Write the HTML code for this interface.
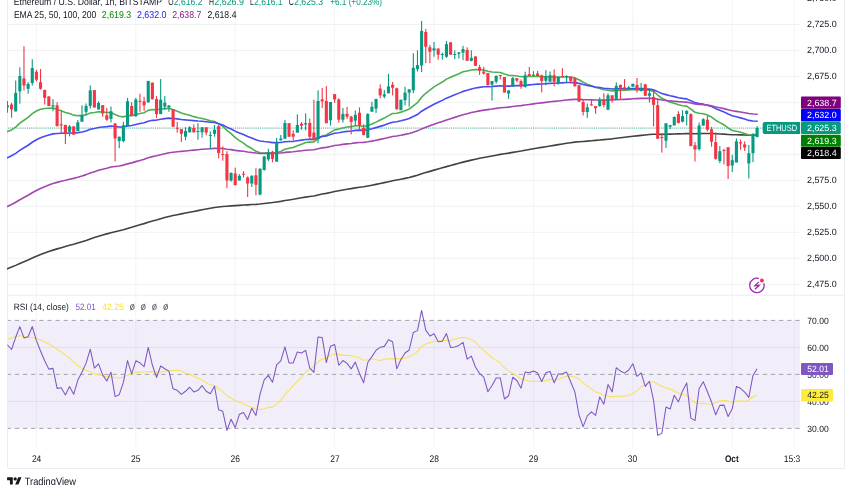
<!DOCTYPE html><html><head><meta charset="utf-8"><style>
html,body{margin:0;padding:0;background:#fff;width:852px;height:485px;overflow:hidden}
svg{position:absolute;left:0;top:0;display:block;will-change:transform}
text{font-family:"Liberation Sans",sans-serif;text-rendering:geometricPrecision}
</style></head><body>
<svg width="852" height="485" viewBox="0 0 852 485">
<rect x="0" y="0" width="852" height="485" fill="#fff"/>
<line x1="36.40" y1="0" x2="36.40" y2="295" stroke="#f3f4f5" stroke-width="1"/>
<line x1="36.40" y1="295.5" x2="36.40" y2="447" stroke="#f3f4f5" stroke-width="1"/>
<line x1="135.81" y1="0" x2="135.81" y2="295" stroke="#f3f4f5" stroke-width="1"/>
<line x1="135.81" y1="295.5" x2="135.81" y2="447" stroke="#f3f4f5" stroke-width="1"/>
<line x1="235.22" y1="0" x2="235.22" y2="295" stroke="#f3f4f5" stroke-width="1"/>
<line x1="235.22" y1="295.5" x2="235.22" y2="447" stroke="#f3f4f5" stroke-width="1"/>
<line x1="334.62" y1="0" x2="334.62" y2="295" stroke="#f3f4f5" stroke-width="1"/>
<line x1="334.62" y1="295.5" x2="334.62" y2="447" stroke="#f3f4f5" stroke-width="1"/>
<line x1="434.03" y1="0" x2="434.03" y2="295" stroke="#f3f4f5" stroke-width="1"/>
<line x1="434.03" y1="295.5" x2="434.03" y2="447" stroke="#f3f4f5" stroke-width="1"/>
<line x1="533.44" y1="0" x2="533.44" y2="295" stroke="#f3f4f5" stroke-width="1"/>
<line x1="533.44" y1="295.5" x2="533.44" y2="447" stroke="#f3f4f5" stroke-width="1"/>
<line x1="632.85" y1="0" x2="632.85" y2="295" stroke="#f3f4f5" stroke-width="1"/>
<line x1="632.85" y1="295.5" x2="632.85" y2="447" stroke="#f3f4f5" stroke-width="1"/>
<line x1="732.26" y1="0" x2="732.26" y2="295" stroke="#f3f4f5" stroke-width="1"/>
<line x1="732.26" y1="295.5" x2="732.26" y2="447" stroke="#f3f4f5" stroke-width="1"/>
<line x1="794.30" y1="0" x2="794.30" y2="295" stroke="#f3f4f5" stroke-width="1"/>
<line x1="794.30" y1="295.5" x2="794.30" y2="447" stroke="#f3f4f5" stroke-width="1"/>
<line x1="8" y1="24.40" x2="800" y2="24.40" stroke="#f0f2f2" stroke-width="1"/>
<line x1="8" y1="50.39" x2="800" y2="50.39" stroke="#f0f2f2" stroke-width="1"/>
<line x1="8" y1="76.38" x2="800" y2="76.38" stroke="#f0f2f2" stroke-width="1"/>
<line x1="8" y1="102.36" x2="800" y2="102.36" stroke="#f0f2f2" stroke-width="1"/>
<line x1="8" y1="128.35" x2="800" y2="128.35" stroke="#f0f2f2" stroke-width="1"/>
<line x1="8" y1="154.34" x2="800" y2="154.34" stroke="#f0f2f2" stroke-width="1"/>
<line x1="8" y1="180.33" x2="800" y2="180.33" stroke="#f0f2f2" stroke-width="1"/>
<line x1="8" y1="206.31" x2="800" y2="206.31" stroke="#f0f2f2" stroke-width="1"/>
<line x1="8" y1="232.30" x2="800" y2="232.30" stroke="#f0f2f2" stroke-width="1"/>
<line x1="8" y1="258.29" x2="800" y2="258.29" stroke="#f0f2f2" stroke-width="1"/>
<line x1="8" y1="284.27" x2="800" y2="284.27" stroke="#f0f2f2" stroke-width="1"/>
<line x1="8" y1="347.40" x2="800" y2="347.40" stroke="#eceef4" stroke-width="1"/>
<line x1="8" y1="401.40" x2="800" y2="401.40" stroke="#eceef4" stroke-width="1"/>
<rect x="8" y="320.4" width="792" height="108" fill="#7e57c2" fill-opacity="0.1"/>
<line x1="0" y1="320.40" x2="800" y2="320.40" clip-path="url(#rp2)" stroke="#a0a3ab" stroke-width="1" stroke-dasharray="4.2,3.93" stroke-dashoffset="-6.77"/>
<line x1="0" y1="374.40" x2="800" y2="374.40" clip-path="url(#rp2)" stroke="#a0a3ab" stroke-width="1" stroke-dasharray="4.2,3.93" stroke-dashoffset="-6.77"/>
<line x1="0" y1="428.40" x2="800" y2="428.40" clip-path="url(#rp2)" stroke="#a0a3ab" stroke-width="1" stroke-dasharray="4.2,3.93" stroke-dashoffset="-6.77"/>
<line x1="7.5" y1="0" x2="7.5" y2="468.5" stroke="#eaecf1" stroke-width="1"/>
<line x1="844.5" y1="0" x2="844.5" y2="468.5" stroke="#eaecf1" stroke-width="1"/>
<line x1="7.5" y1="468.5" x2="844.5" y2="468.5" stroke="#eaecf1" stroke-width="1"/>
<line x1="8" y1="295.2" x2="844" y2="295.2" stroke="#eaecf1" stroke-width="1"/>
<line x1="8" y1="128.04" x2="800" y2="128.04" stroke="#089981" stroke-width="1" stroke-dasharray="1,1.1" opacity="0.75"/>
<defs><clipPath id="mp"><rect x="7" y="0" width="793" height="295"/></clipPath><clipPath id="rp2"><rect x="7.5" y="296" width="792.5" height="151"/></clipPath><clipPath id="rp"><rect x="7" y="296" width="793" height="151"/></clipPath></defs>
<polyline clip-path="url(#mp)" points="7.41,268.70 11.55,267.11 15.69,265.38 19.83,263.50 23.97,261.73 28.12,259.96 32.26,258.05 36.40,256.27 40.54,254.61 44.68,253.05 48.83,251.58 52.97,250.13 57.11,248.89 61.25,247.67 65.39,246.53 69.54,245.34 73.68,244.23 77.82,243.02 81.96,241.75 86.10,240.40 90.25,238.90 94.39,237.60 98.53,236.26 102.67,235.03 106.81,233.89 110.96,232.67 115.10,231.73 119.24,230.79 123.38,229.74 127.52,228.46 131.67,227.33 135.81,226.06 139.95,224.82 144.09,223.63 148.23,222.21 152.38,220.99 156.52,219.93 160.66,218.73 164.80,217.58 168.94,216.46 173.09,215.57 177.23,214.70 181.37,213.90 185.51,213.07 189.65,212.22 193.80,211.42 197.94,210.62 202.08,209.79 206.22,209.03 210.36,208.29 214.51,207.51 218.65,206.96 222.79,206.45 226.93,206.19 231.07,205.86 235.22,205.65 239.36,205.35 243.50,205.05 247.64,204.83 251.78,204.54 255.93,204.35 260.07,203.99 264.21,203.52 268.35,203.01 272.49,202.57 276.64,201.97 280.78,201.34 284.92,200.56 289.06,199.93 293.20,199.30 297.35,198.56 301.49,197.83 305.63,197.09 309.77,196.49 313.91,195.93 318.06,194.99 322.20,194.05 326.34,193.35 330.48,192.44 334.62,191.52 338.77,190.80 342.91,190.04 347.05,189.31 351.19,188.64 355.33,187.90 359.48,187.28 363.62,186.76 367.76,186.04 371.90,185.25 376.04,184.39 380.19,183.50 384.33,182.62 388.47,181.66 392.61,180.73 396.75,180.01 400.90,179.21 405.04,178.35 409.18,177.47 413.32,176.38 417.46,175.27 421.61,173.83 425.75,172.57 429.89,171.36 434.03,170.14 438.17,168.99 442.32,167.85 446.46,166.62 450.60,165.50 454.74,164.39 458.88,163.28 463.03,162.14 467.17,161.13 471.31,160.11 475.45,159.17 479.59,158.29 483.74,157.44 487.88,156.73 492.02,155.97 496.16,155.18 500.30,154.39 504.45,153.77 508.59,153.14 512.73,152.40 516.87,151.68 521.01,151.03 525.16,150.28 529.30,149.54 533.44,148.79 537.58,148.07 541.72,147.40 545.87,146.69 550.01,145.98 554.15,145.34 558.29,144.66 562.43,143.99 566.58,143.31 570.72,142.69 574.86,142.13 579.00,141.73 583.14,141.43 587.29,141.09 591.43,140.74 595.57,140.41 599.71,140.01 603.85,139.66 608.00,139.22 612.14,138.83 616.28,138.30 620.42,137.80 624.56,137.32 628.71,136.82 632.85,136.29 636.99,135.83 641.13,135.36 645.27,134.97 649.42,134.56 653.56,134.26 657.70,134.30 661.84,134.34 665.98,134.23 670.13,134.14 674.27,133.97 678.41,133.86 682.55,133.68 686.69,133.46 690.84,133.58 694.98,133.74 699.12,133.66 703.26,133.51 707.40,133.48 711.55,133.56 715.69,133.81 719.83,133.98 723.97,134.15 728.11,134.47 732.26,134.72 736.40,134.79 740.54,134.88 744.68,135.00 748.82,135.19 752.97,135.18 757.11,135.11" fill="none" stroke="#424242" stroke-width="1.6" stroke-linejoin="round" stroke-linecap="round"/>
<polyline clip-path="url(#mp)" points="7.41,131.60 11.55,129.89 15.69,127.05 19.83,123.12 23.97,120.23 28.12,117.42 32.26,113.63 36.40,111.02 40.54,109.31 44.68,108.43 48.83,108.25 52.97,108.03 57.11,109.42 61.25,110.65 65.39,112.41 69.54,113.49 73.68,115.12 77.82,115.67 81.96,115.62 86.10,114.87 90.25,112.99 94.39,112.57 98.53,111.83 102.67,111.96 106.81,112.56 110.96,112.47 115.10,114.47 119.24,116.18 123.38,116.88 127.52,115.67 131.67,115.66 135.81,114.42 139.95,113.42 144.09,112.81 148.23,110.35 152.38,109.50 156.52,109.86 160.66,109.07 164.80,108.59 168.94,108.35 173.09,109.77 177.23,111.21 181.37,112.95 185.51,114.33 189.65,115.33 193.80,116.64 197.94,117.74 202.08,118.48 206.22,119.56 210.36,120.74 214.51,121.43 218.65,123.86 222.79,126.24 226.93,130.41 231.07,133.68 235.22,137.64 239.36,140.58 243.50,143.19 247.64,146.29 251.78,148.56 255.93,151.34 260.07,152.68 264.21,152.98 268.35,152.92 272.49,153.38 276.64,152.54 280.78,151.46 284.92,149.27 289.06,148.30 293.20,147.41 297.35,145.69 301.49,144.16 305.63,142.55 309.77,142.10 313.91,141.95 318.06,138.80 322.20,135.92 326.34,134.94 330.48,132.41 334.62,129.88 338.77,129.10 342.91,127.93 347.05,127.06 351.19,126.67 355.33,125.76 359.48,125.75 363.62,126.46 367.76,125.49 371.90,124.06 376.04,122.13 380.19,120.07 384.33,118.09 388.47,115.65 392.61,113.51 396.75,113.18 400.90,112.14 405.04,110.64 409.18,109.00 413.32,105.83 417.46,102.69 421.61,97.17 425.75,93.29 429.89,90.09 434.03,86.88 438.17,84.40 442.32,82.06 446.46,79.14 450.60,77.26 454.74,75.47 458.88,73.70 463.03,71.81 467.17,70.96 471.31,69.95 475.45,69.63 479.59,69.72 483.74,70.01 487.88,71.18 492.02,71.95 496.16,72.25 500.30,72.52 504.45,74.06 508.59,75.33 512.73,75.55 516.87,75.94 521.01,76.74 525.16,76.63 529.30,76.57 533.44,76.43 537.58,76.39 541.72,76.75 545.87,76.70 550.01,76.59 554.15,76.99 558.29,76.99 562.43,76.97 566.58,76.90 570.72,77.21 574.86,77.90 579.00,79.73 583.14,82.21 587.29,84.14 591.43,85.78 595.57,87.51 599.71,88.47 603.85,89.74 608.00,90.17 612.14,90.92 616.28,90.54 620.42,90.34 624.56,90.24 628.71,90.01 632.85,89.54 636.99,89.59 641.13,89.51 645.27,89.99 649.42,90.25 653.56,91.37 657.70,95.02 661.84,98.31 665.98,100.23 670.13,102.16 674.27,103.30 678.41,104.81 682.55,105.68 686.69,106.08 690.84,109.16 694.98,112.26 699.12,113.28 703.26,113.73 707.40,114.96 711.55,117.02 715.69,120.23 719.83,122.62 723.97,124.80 728.11,127.97 732.26,130.45 736.40,131.29 740.54,132.23 744.68,133.41 748.82,134.93 752.97,134.89 757.11,134.36" fill="none" stroke="#4caf50" stroke-width="1.6" stroke-linejoin="round" stroke-linecap="round"/>
<polyline clip-path="url(#mp)" points="7.41,157.70 11.55,155.81 15.69,153.34 19.83,150.31 23.97,147.76 28.12,145.26 32.26,142.23 36.40,139.78 40.54,137.78 44.68,136.22 48.83,135.03 52.97,133.87 57.11,133.56 61.25,133.25 65.39,133.26 69.54,132.99 73.68,133.06 77.82,132.63 81.96,131.94 86.10,130.92 90.25,129.33 94.39,128.48 98.53,127.48 102.67,126.93 106.81,126.65 110.96,126.05 115.10,126.54 119.24,126.93 123.38,126.87 127.52,125.86 131.67,125.46 135.81,124.44 139.95,123.54 144.09,122.83 148.23,121.18 152.38,120.33 156.52,120.08 160.66,119.28 164.80,118.64 168.94,118.12 173.09,118.46 177.23,118.85 181.37,119.44 185.51,119.89 189.65,120.18 193.80,120.66 197.94,121.06 202.08,121.31 206.22,121.75 210.36,122.27 214.51,122.56 218.65,123.75 222.79,124.97 226.93,127.15 231.07,128.94 235.22,131.15 239.36,132.90 243.50,134.53 247.64,136.45 251.78,137.99 255.93,139.82 260.07,140.96 264.21,141.57 268.35,141.99 272.49,142.65 276.64,142.64 280.78,142.48 284.92,141.72 289.06,141.52 293.20,141.33 297.35,140.69 301.49,140.11 305.63,139.44 309.77,139.34 313.91,139.37 318.06,137.87 322.20,136.44 326.34,135.92 330.48,134.59 334.62,133.21 338.77,132.68 342.91,131.94 347.05,131.35 351.19,130.98 355.33,130.35 359.48,130.16 363.62,130.35 367.76,129.70 371.90,128.81 376.04,127.64 380.19,126.37 384.33,125.12 388.47,123.60 392.61,122.19 396.75,121.68 400.90,120.82 405.04,119.71 409.18,118.52 413.32,116.53 417.46,114.52 421.61,111.24 425.75,108.71 429.89,106.47 434.03,104.19 438.17,102.25 442.32,100.36 446.46,98.15 450.60,96.45 454.74,94.78 458.88,93.12 463.03,91.39 467.17,90.19 471.31,88.93 475.45,88.02 479.59,87.34 483.74,86.80 487.88,86.74 492.02,86.52 496.16,86.10 500.30,85.70 504.45,85.96 508.59,86.14 512.73,85.83 516.87,85.63 521.01,85.66 525.16,85.25 529.30,84.88 533.44,84.48 537.58,84.15 541.72,84.03 545.87,83.72 550.01,83.39 554.15,83.32 558.29,83.07 562.43,82.83 566.58,82.56 570.72,82.49 574.86,82.64 579.00,83.39 583.14,84.51 587.29,85.40 591.43,86.19 595.57,87.05 599.71,87.56 603.85,88.25 608.00,88.52 612.14,88.97 616.28,88.85 620.42,88.81 624.56,88.83 628.71,88.77 632.85,88.57 636.99,88.64 641.13,88.63 645.27,88.91 649.42,89.09 653.56,89.70 657.70,91.63 661.84,93.44 665.98,94.61 670.13,95.81 674.27,96.64 678.41,97.67 682.55,98.40 686.69,98.89 690.84,100.74 694.98,102.65 699.12,103.55 703.26,104.16 707.40,105.16 711.55,106.59 715.69,108.64 719.83,110.31 723.97,111.91 728.11,114.03 732.26,115.84 736.40,116.84 740.54,117.89 744.68,119.05 748.82,120.39 752.97,120.94 757.11,121.22" fill="none" stroke="#4a4af5" stroke-width="1.6" stroke-linejoin="round" stroke-linecap="round"/>
<polyline clip-path="url(#mp)" points="7.41,206.40 11.55,204.48 15.69,202.27 19.83,199.77 23.97,197.51 28.12,195.25 32.26,192.74 36.40,190.50 40.54,188.48 44.68,186.69 48.83,185.10 52.97,183.52 57.11,182.38 61.25,181.25 65.39,180.31 69.54,179.24 73.68,178.36 77.82,177.25 81.96,176.01 86.10,174.63 90.25,172.96 94.39,171.66 98.53,170.30 102.67,169.18 106.81,168.20 110.96,167.07 115.10,166.51 119.24,165.92 123.38,165.11 127.52,163.85 131.67,162.89 135.81,161.63 139.95,160.44 144.09,159.35 148.23,157.80 152.38,156.64 156.52,155.80 160.66,154.69 164.80,153.66 168.94,152.71 173.09,152.19 177.23,151.73 181.37,151.37 185.51,150.96 189.65,150.50 193.80,150.14 197.94,149.76 202.08,149.31 206.22,148.98 210.36,148.70 214.51,148.33 218.65,148.42 222.79,148.55 226.93,149.18 231.07,149.65 235.22,150.35 239.36,150.86 243.50,151.32 247.64,151.96 251.78,152.43 255.93,153.07 260.07,153.38 264.21,153.45 268.35,153.42 272.49,153.53 276.64,153.31 280.78,153.02 284.92,152.42 289.06,152.11 293.20,151.81 297.35,151.28 301.49,150.77 305.63,150.23 309.77,149.96 313.91,149.76 318.06,148.80 322.20,147.86 326.34,147.37 330.48,146.47 334.62,145.54 338.77,145.03 342.91,144.41 347.05,143.87 351.19,143.43 355.33,142.87 359.48,142.52 363.62,142.37 367.76,141.81 371.90,141.12 376.04,140.28 380.19,139.40 384.33,138.50 388.47,137.47 392.61,136.49 396.75,135.95 400.90,135.23 405.04,134.38 409.18,133.49 413.32,132.19 417.46,130.86 421.61,128.88 425.75,127.26 429.89,125.76 434.03,124.23 438.17,122.85 442.32,121.49 446.46,119.95 450.60,118.66 454.74,117.38 458.88,116.09 463.03,114.77 467.17,113.70 471.31,112.59 475.45,111.67 479.59,110.86 483.74,110.12 487.88,109.62 492.02,109.06 496.16,108.40 500.30,107.76 504.45,107.46 508.59,107.12 512.73,106.55 516.87,106.03 521.01,105.64 525.16,105.04 529.30,104.47 533.44,103.88 537.58,103.32 541.72,102.88 545.87,102.35 550.01,101.82 554.15,101.42 558.29,100.94 562.43,100.46 566.58,99.97 570.72,99.60 574.86,99.33 579.00,99.38 583.14,99.63 587.29,99.78 591.43,99.89 595.57,100.06 599.71,100.06 603.85,100.15 608.00,100.06 612.14,100.06 616.28,99.78 620.42,99.54 624.56,99.33 628.71,99.10 632.85,98.79 636.99,98.62 641.13,98.42 645.27,98.37 649.42,98.27 653.56,98.40 657.70,99.20 661.84,99.97 665.98,100.43 670.13,100.92 674.27,101.24 678.41,101.67 682.55,101.95 686.69,102.13 690.84,103.00 694.98,103.92 699.12,104.35 703.26,104.64 707.40,105.14 711.55,105.86 715.69,106.91 719.83,107.79 723.97,108.64 728.11,109.78 732.26,110.78 736.40,111.38 740.54,112.02 744.68,112.73 748.82,113.53 752.97,113.94 757.11,114.22" fill="none" stroke="#a445b2" stroke-width="1.6" stroke-linejoin="round" stroke-linecap="round"/>
<g clip-path="url(#mp)">
<rect x="6.86" y="101.00" width="1.1" height="11.70" fill="#089981"/>
<rect x="5.86" y="105.30" width="3.1" height="2.10" fill="#089981"/>
<rect x="11.00" y="102.80" width="1.1" height="14.90" fill="#F23645"/>
<rect x="10.00" y="104.50" width="3.1" height="4.90" fill="#F23645"/>
<rect x="15.14" y="80.50" width="1.1" height="30.90" fill="#089981"/>
<rect x="14.14" y="92.90" width="3.1" height="18.50" fill="#089981"/>
<rect x="19.28" y="67.30" width="1.1" height="36.30" fill="#089981"/>
<rect x="18.28" y="76.00" width="3.1" height="15.30" fill="#089981"/>
<rect x="23.42" y="46.20" width="1.1" height="44.20" fill="#F23645"/>
<rect x="22.42" y="78.40" width="3.1" height="7.10" fill="#F23645"/>
<rect x="27.57" y="82.20" width="1.1" height="11.50" fill="#089981"/>
<rect x="26.57" y="83.80" width="3.1" height="5.00" fill="#089981"/>
<rect x="31.71" y="59.30" width="1.1" height="26.20" fill="#089981"/>
<rect x="30.71" y="68.10" width="3.1" height="14.90" fill="#089981"/>
<rect x="35.85" y="69.80" width="1.1" height="11.60" fill="#F23645"/>
<rect x="34.85" y="71.80" width="3.1" height="7.90" fill="#F23645"/>
<rect x="39.99" y="69.00" width="1.1" height="20.60" fill="#F23645"/>
<rect x="38.99" y="82.20" width="3.1" height="6.60" fill="#F23645"/>
<rect x="44.13" y="89.60" width="1.1" height="14.90" fill="#F23645"/>
<rect x="43.13" y="90.00" width="3.1" height="7.90" fill="#F23645"/>
<rect x="48.28" y="96.20" width="1.1" height="9.90" fill="#F23645"/>
<rect x="47.28" y="96.50" width="3.1" height="9.60" fill="#F23645"/>
<rect x="52.42" y="99.20" width="1.1" height="12.00" fill="#089981"/>
<rect x="51.42" y="105.30" width="3.1" height="1.20" fill="#089981"/>
<rect x="56.56" y="102.10" width="1.1" height="24.30" fill="#F23645"/>
<rect x="55.56" y="105.30" width="3.1" height="20.80" fill="#F23645"/>
<rect x="60.70" y="110.60" width="1.1" height="23.50" fill="#F23645"/>
<rect x="59.70" y="124.30" width="3.1" height="1.20" fill="#F23645"/>
<rect x="64.84" y="124.90" width="1.1" height="19.20" fill="#F23645"/>
<rect x="63.84" y="124.90" width="3.1" height="8.60" fill="#F23645"/>
<rect x="68.99" y="124.90" width="1.1" height="11.50" fill="#089981"/>
<rect x="67.99" y="126.40" width="3.1" height="5.30" fill="#089981"/>
<rect x="73.13" y="126.40" width="1.1" height="8.30" fill="#F23645"/>
<rect x="72.13" y="126.40" width="3.1" height="8.30" fill="#F23645"/>
<rect x="77.27" y="120.00" width="1.1" height="11.10" fill="#089981"/>
<rect x="76.27" y="122.30" width="3.1" height="8.80" fill="#089981"/>
<rect x="81.41" y="105.30" width="1.1" height="16.40" fill="#089981"/>
<rect x="80.41" y="115.00" width="3.1" height="6.70" fill="#089981"/>
<rect x="85.55" y="103.50" width="1.1" height="11.20" fill="#089981"/>
<rect x="84.55" y="105.90" width="3.1" height="5.90" fill="#089981"/>
<rect x="89.70" y="85.50" width="1.1" height="23.10" fill="#089981"/>
<rect x="88.70" y="90.40" width="3.1" height="15.50" fill="#089981"/>
<rect x="93.84" y="90.10" width="1.1" height="17.40" fill="#F23645"/>
<rect x="92.84" y="90.10" width="3.1" height="17.40" fill="#F23645"/>
<rect x="97.98" y="101.20" width="1.1" height="8.50" fill="#089981"/>
<rect x="96.98" y="103.00" width="3.1" height="6.40" fill="#089981"/>
<rect x="102.12" y="105.00" width="1.1" height="11.70" fill="#F23645"/>
<rect x="101.12" y="105.20" width="3.1" height="8.30" fill="#F23645"/>
<rect x="106.26" y="108.00" width="1.1" height="12.80" fill="#F23645"/>
<rect x="105.26" y="115.30" width="3.1" height="4.50" fill="#F23645"/>
<rect x="110.41" y="106.50" width="1.1" height="15.90" fill="#089981"/>
<rect x="109.41" y="111.30" width="3.1" height="7.60" fill="#089981"/>
<rect x="114.55" y="122.90" width="1.1" height="38.60" fill="#F23645"/>
<rect x="113.55" y="123.50" width="3.1" height="15.00" fill="#F23645"/>
<rect x="118.69" y="136.70" width="1.1" height="11.50" fill="#089981"/>
<rect x="117.69" y="136.70" width="3.1" height="4.40" fill="#089981"/>
<rect x="122.83" y="121.70" width="1.1" height="20.60" fill="#089981"/>
<rect x="121.83" y="125.30" width="3.1" height="15.80" fill="#089981"/>
<rect x="126.97" y="97.90" width="1.1" height="28.80" fill="#089981"/>
<rect x="125.97" y="101.20" width="3.1" height="24.70" fill="#089981"/>
<rect x="131.12" y="102.20" width="1.1" height="14.10" fill="#F23645"/>
<rect x="130.12" y="106.00" width="3.1" height="9.50" fill="#F23645"/>
<rect x="135.26" y="97.90" width="1.1" height="18.50" fill="#089981"/>
<rect x="134.26" y="99.50" width="3.1" height="16.90" fill="#089981"/>
<rect x="139.40" y="93.80" width="1.1" height="18.00" fill="#F23645"/>
<rect x="138.40" y="100.80" width="3.1" height="1.00" fill="#F23645"/>
<rect x="143.54" y="96.70" width="1.1" height="14.10" fill="#F23645"/>
<rect x="142.54" y="101.30" width="3.1" height="4.10" fill="#F23645"/>
<rect x="147.68" y="80.90" width="1.1" height="21.50" fill="#089981"/>
<rect x="146.68" y="80.90" width="3.1" height="21.50" fill="#089981"/>
<rect x="151.83" y="82.60" width="1.1" height="16.70" fill="#F23645"/>
<rect x="150.83" y="82.60" width="3.1" height="16.70" fill="#F23645"/>
<rect x="155.97" y="96.10" width="1.1" height="21.80" fill="#F23645"/>
<rect x="154.97" y="99.10" width="3.1" height="15.00" fill="#F23645"/>
<rect x="160.11" y="79.10" width="1.1" height="35.00" fill="#089981"/>
<rect x="159.11" y="99.70" width="3.1" height="14.40" fill="#089981"/>
<rect x="164.25" y="96.10" width="1.1" height="13.60" fill="#089981"/>
<rect x="163.25" y="102.80" width="3.1" height="3.90" fill="#089981"/>
<rect x="168.39" y="105.20" width="1.1" height="6.60" fill="#089981"/>
<rect x="167.39" y="105.50" width="3.1" height="2.00" fill="#089981"/>
<rect x="172.54" y="109.10" width="1.1" height="17.60" fill="#F23645"/>
<rect x="171.54" y="109.10" width="3.1" height="17.60" fill="#F23645"/>
<rect x="176.68" y="122.00" width="1.1" height="10.60" fill="#F23645"/>
<rect x="175.68" y="127.80" width="3.1" height="1.00" fill="#F23645"/>
<rect x="180.82" y="129.10" width="1.1" height="12.90" fill="#F23645"/>
<rect x="179.82" y="129.10" width="3.1" height="4.70" fill="#F23645"/>
<rect x="184.96" y="127.30" width="1.1" height="13.00" fill="#089981"/>
<rect x="183.96" y="130.90" width="3.1" height="5.80" fill="#089981"/>
<rect x="189.10" y="126.20" width="1.1" height="6.40" fill="#089981"/>
<rect x="188.10" y="127.30" width="3.1" height="5.00" fill="#089981"/>
<rect x="193.25" y="124.40" width="1.1" height="8.20" fill="#F23645"/>
<rect x="192.25" y="127.90" width="3.1" height="4.40" fill="#F23645"/>
<rect x="197.39" y="123.20" width="1.1" height="16.50" fill="#089981"/>
<rect x="196.39" y="131.00" width="3.1" height="1.00" fill="#089981"/>
<rect x="201.53" y="127.30" width="1.1" height="10.40" fill="#089981"/>
<rect x="200.53" y="127.30" width="3.1" height="5.00" fill="#089981"/>
<rect x="205.67" y="127.30" width="1.1" height="8.00" fill="#F23645"/>
<rect x="204.67" y="127.30" width="3.1" height="5.30" fill="#F23645"/>
<rect x="209.81" y="131.40" width="1.1" height="17.60" fill="#089981"/>
<rect x="208.81" y="134.90" width="3.1" height="1.00" fill="#089981"/>
<rect x="213.96" y="125.00" width="1.1" height="11.70" fill="#089981"/>
<rect x="212.96" y="129.70" width="3.1" height="4.10" fill="#089981"/>
<rect x="218.10" y="125.00" width="1.1" height="33.30" fill="#F23645"/>
<rect x="217.10" y="126.20" width="3.1" height="26.80" fill="#F23645"/>
<rect x="222.24" y="146.30" width="1.1" height="14.40" fill="#F23645"/>
<rect x="221.24" y="154.00" width="3.1" height="1.00" fill="#F23645"/>
<rect x="226.38" y="151.20" width="1.1" height="37.00" fill="#F23645"/>
<rect x="225.38" y="154.10" width="3.1" height="26.40" fill="#F23645"/>
<rect x="230.52" y="172.30" width="1.1" height="9.40" fill="#089981"/>
<rect x="229.52" y="172.90" width="3.1" height="7.60" fill="#089981"/>
<rect x="234.67" y="167.60" width="1.1" height="17.60" fill="#F23645"/>
<rect x="233.67" y="173.50" width="3.1" height="11.70" fill="#F23645"/>
<rect x="238.81" y="174.10" width="1.1" height="6.40" fill="#089981"/>
<rect x="237.81" y="175.80" width="3.1" height="4.70" fill="#089981"/>
<rect x="242.95" y="171.10" width="1.1" height="6.50" fill="#F23645"/>
<rect x="241.95" y="173.70" width="3.1" height="1.00" fill="#F23645"/>
<rect x="247.09" y="176.40" width="1.1" height="20.60" fill="#F23645"/>
<rect x="246.09" y="177.40" width="3.1" height="6.10" fill="#F23645"/>
<rect x="251.23" y="175.30" width="1.1" height="11.70" fill="#089981"/>
<rect x="250.23" y="175.80" width="3.1" height="7.70" fill="#089981"/>
<rect x="255.38" y="168.20" width="1.1" height="27.00" fill="#F23645"/>
<rect x="254.38" y="175.30" width="3.1" height="9.40" fill="#F23645"/>
<rect x="259.52" y="168.20" width="1.1" height="27.00" fill="#089981"/>
<rect x="258.52" y="168.80" width="3.1" height="25.80" fill="#089981"/>
<rect x="263.66" y="155.90" width="1.1" height="14.70" fill="#089981"/>
<rect x="262.66" y="156.50" width="3.1" height="13.50" fill="#089981"/>
<rect x="267.80" y="148.80" width="1.1" height="12.40" fill="#089981"/>
<rect x="266.80" y="152.30" width="3.1" height="7.10" fill="#089981"/>
<rect x="271.94" y="150.80" width="1.1" height="11.50" fill="#F23645"/>
<rect x="270.94" y="151.80" width="3.1" height="7.00" fill="#F23645"/>
<rect x="276.09" y="137.90" width="1.1" height="23.80" fill="#089981"/>
<rect x="275.09" y="142.50" width="3.1" height="19.20" fill="#089981"/>
<rect x="280.23" y="135.00" width="1.1" height="5.80" fill="#089981"/>
<rect x="279.23" y="138.50" width="3.1" height="1.70" fill="#089981"/>
<rect x="284.37" y="119.90" width="1.1" height="18.80" fill="#089981"/>
<rect x="283.37" y="123.00" width="3.1" height="15.70" fill="#089981"/>
<rect x="288.51" y="123.20" width="1.1" height="13.50" fill="#F23645"/>
<rect x="287.51" y="123.20" width="3.1" height="13.50" fill="#F23645"/>
<rect x="292.65" y="130.30" width="1.1" height="9.90" fill="#F23645"/>
<rect x="291.65" y="133.80" width="3.1" height="2.90" fill="#F23645"/>
<rect x="296.80" y="114.40" width="1.1" height="18.20" fill="#089981"/>
<rect x="295.80" y="125.00" width="3.1" height="7.60" fill="#089981"/>
<rect x="300.94" y="122.00" width="1.1" height="7.70" fill="#F23645"/>
<rect x="299.94" y="123.80" width="3.1" height="2.00" fill="#F23645"/>
<rect x="305.08" y="113.30" width="1.1" height="17.00" fill="#089981"/>
<rect x="304.08" y="123.20" width="3.1" height="1.40" fill="#089981"/>
<rect x="309.22" y="118.50" width="1.1" height="21.20" fill="#F23645"/>
<rect x="308.22" y="123.00" width="3.1" height="13.70" fill="#F23645"/>
<rect x="313.36" y="99.80" width="1.1" height="40.40" fill="#F23645"/>
<rect x="312.36" y="132.60" width="3.1" height="7.60" fill="#F23645"/>
<rect x="317.51" y="90.30" width="1.1" height="52.90" fill="#089981"/>
<rect x="316.51" y="101.00" width="3.1" height="38.10" fill="#089981"/>
<rect x="321.65" y="88.00" width="1.1" height="20.00" fill="#F23645"/>
<rect x="320.65" y="99.30" width="3.1" height="2.10" fill="#F23645"/>
<rect x="325.79" y="86.10" width="1.1" height="37.10" fill="#F23645"/>
<rect x="324.79" y="101.00" width="3.1" height="22.20" fill="#F23645"/>
<rect x="329.93" y="102.00" width="1.1" height="23.60" fill="#089981"/>
<rect x="328.93" y="102.00" width="3.1" height="18.30" fill="#089981"/>
<rect x="334.07" y="94.10" width="1.1" height="8.70" fill="#F23645"/>
<rect x="333.07" y="94.10" width="3.1" height="5.40" fill="#F23645"/>
<rect x="338.22" y="98.30" width="1.1" height="24.30" fill="#F23645"/>
<rect x="337.22" y="99.50" width="3.1" height="20.20" fill="#F23645"/>
<rect x="342.36" y="108.00" width="1.1" height="14.60" fill="#089981"/>
<rect x="341.36" y="113.90" width="3.1" height="5.80" fill="#089981"/>
<rect x="346.50" y="106.90" width="1.1" height="12.20" fill="#F23645"/>
<rect x="345.50" y="113.80" width="3.1" height="2.90" fill="#F23645"/>
<rect x="350.64" y="115.70" width="1.1" height="18.70" fill="#F23645"/>
<rect x="349.64" y="116.70" width="3.1" height="5.30" fill="#F23645"/>
<rect x="354.78" y="110.40" width="1.1" height="15.70" fill="#089981"/>
<rect x="353.78" y="114.80" width="3.1" height="5.80" fill="#089981"/>
<rect x="358.93" y="107.40" width="1.1" height="22.90" fill="#F23645"/>
<rect x="357.93" y="112.70" width="3.1" height="12.90" fill="#F23645"/>
<rect x="363.07" y="124.40" width="1.1" height="11.10" fill="#F23645"/>
<rect x="362.07" y="127.90" width="3.1" height="7.10" fill="#F23645"/>
<rect x="367.21" y="113.30" width="1.1" height="24.60" fill="#089981"/>
<rect x="366.21" y="113.90" width="3.1" height="24.00" fill="#089981"/>
<rect x="371.35" y="101.80" width="1.1" height="9.90" fill="#089981"/>
<rect x="370.35" y="106.80" width="3.1" height="4.90" fill="#089981"/>
<rect x="375.49" y="98.80" width="1.1" height="14.10" fill="#089981"/>
<rect x="374.49" y="99.00" width="3.1" height="9.60" fill="#089981"/>
<rect x="379.64" y="84.40" width="1.1" height="13.90" fill="#F23645"/>
<rect x="378.64" y="88.60" width="3.1" height="6.80" fill="#F23645"/>
<rect x="383.78" y="90.00" width="1.1" height="8.30" fill="#089981"/>
<rect x="382.78" y="94.30" width="3.1" height="2.30" fill="#089981"/>
<rect x="387.92" y="73.80" width="1.1" height="19.50" fill="#089981"/>
<rect x="386.92" y="86.40" width="3.1" height="6.90" fill="#089981"/>
<rect x="392.06" y="82.00" width="1.1" height="13.40" fill="#F23645"/>
<rect x="391.06" y="84.80" width="3.1" height="3.00" fill="#F23645"/>
<rect x="396.20" y="87.70" width="1.1" height="22.10" fill="#F23645"/>
<rect x="395.20" y="88.30" width="3.1" height="20.90" fill="#F23645"/>
<rect x="400.35" y="99.70" width="1.1" height="10.50" fill="#089981"/>
<rect x="399.35" y="99.70" width="3.1" height="10.50" fill="#089981"/>
<rect x="404.49" y="86.70" width="1.1" height="18.80" fill="#089981"/>
<rect x="403.49" y="92.60" width="3.1" height="7.60" fill="#089981"/>
<rect x="408.63" y="89.30" width="1.1" height="17.40" fill="#089981"/>
<rect x="407.63" y="89.30" width="3.1" height="3.30" fill="#089981"/>
<rect x="412.77" y="53.20" width="1.1" height="40.00" fill="#089981"/>
<rect x="411.77" y="67.80" width="3.1" height="22.50" fill="#089981"/>
<rect x="416.91" y="50.30" width="1.1" height="21.20" fill="#089981"/>
<rect x="415.91" y="65.10" width="3.1" height="4.00" fill="#089981"/>
<rect x="421.06" y="20.90" width="1.1" height="51.10" fill="#089981"/>
<rect x="420.06" y="30.90" width="3.1" height="34.60" fill="#089981"/>
<rect x="425.20" y="28.90" width="1.1" height="34.10" fill="#F23645"/>
<rect x="424.20" y="32.00" width="3.1" height="14.70" fill="#F23645"/>
<rect x="429.34" y="45.00" width="1.1" height="18.20" fill="#F23645"/>
<rect x="428.34" y="47.30" width="3.1" height="4.40" fill="#F23645"/>
<rect x="433.48" y="42.00" width="1.1" height="14.70" fill="#089981"/>
<rect x="432.48" y="48.30" width="3.1" height="2.20" fill="#089981"/>
<rect x="437.62" y="48.50" width="1.1" height="11.20" fill="#F23645"/>
<rect x="436.62" y="48.50" width="3.1" height="6.20" fill="#F23645"/>
<rect x="441.77" y="52.60" width="1.1" height="7.10" fill="#089981"/>
<rect x="440.77" y="54.00" width="3.1" height="1.00" fill="#089981"/>
<rect x="445.91" y="40.90" width="1.1" height="17.00" fill="#089981"/>
<rect x="444.91" y="44.10" width="3.1" height="12.60" fill="#089981"/>
<rect x="450.05" y="42.30" width="1.1" height="12.40" fill="#F23645"/>
<rect x="449.05" y="42.30" width="3.1" height="12.40" fill="#F23645"/>
<rect x="454.19" y="50.30" width="1.1" height="8.80" fill="#089981"/>
<rect x="453.19" y="54.00" width="3.1" height="1.00" fill="#089981"/>
<rect x="458.33" y="52.00" width="1.1" height="6.50" fill="#089981"/>
<rect x="457.33" y="52.40" width="3.1" height="1.40" fill="#089981"/>
<rect x="462.48" y="45.80" width="1.1" height="14.40" fill="#089981"/>
<rect x="461.48" y="49.10" width="3.1" height="3.50" fill="#089981"/>
<rect x="466.62" y="47.30" width="1.1" height="13.50" fill="#F23645"/>
<rect x="465.62" y="50.00" width="3.1" height="10.80" fill="#F23645"/>
<rect x="470.76" y="50.30" width="1.1" height="11.10" fill="#089981"/>
<rect x="469.76" y="57.90" width="3.1" height="2.90" fill="#089981"/>
<rect x="474.90" y="56.40" width="1.1" height="9.70" fill="#F23645"/>
<rect x="473.90" y="56.40" width="3.1" height="9.40" fill="#F23645"/>
<rect x="479.04" y="64.80" width="1.1" height="10.10" fill="#F23645"/>
<rect x="478.04" y="67.30" width="3.1" height="3.40" fill="#F23645"/>
<rect x="483.19" y="66.80" width="1.1" height="7.90" fill="#F23645"/>
<rect x="482.19" y="71.50" width="3.1" height="2.00" fill="#F23645"/>
<rect x="487.33" y="73.10" width="1.1" height="12.20" fill="#F23645"/>
<rect x="486.33" y="73.10" width="3.1" height="12.20" fill="#F23645"/>
<rect x="491.47" y="81.10" width="1.1" height="19.40" fill="#089981"/>
<rect x="490.47" y="81.10" width="3.1" height="3.60" fill="#089981"/>
<rect x="495.61" y="75.30" width="1.1" height="8.20" fill="#089981"/>
<rect x="494.61" y="75.90" width="3.1" height="5.80" fill="#089981"/>
<rect x="499.75" y="74.90" width="1.1" height="4.50" fill="#F23645"/>
<rect x="498.75" y="75.00" width="3.1" height="1.00" fill="#F23645"/>
<rect x="503.90" y="77.00" width="1.1" height="15.50" fill="#F23645"/>
<rect x="502.90" y="77.00" width="3.1" height="15.50" fill="#F23645"/>
<rect x="508.04" y="90.00" width="1.1" height="8.80" fill="#089981"/>
<rect x="507.04" y="90.50" width="3.1" height="3.00" fill="#089981"/>
<rect x="512.18" y="77.00" width="1.1" height="9.40" fill="#089981"/>
<rect x="511.18" y="78.20" width="3.1" height="8.20" fill="#089981"/>
<rect x="516.32" y="78.20" width="1.1" height="4.10" fill="#F23645"/>
<rect x="515.32" y="78.20" width="3.1" height="2.40" fill="#F23645"/>
<rect x="520.46" y="79.40" width="1.1" height="9.40" fill="#F23645"/>
<rect x="519.46" y="81.10" width="3.1" height="5.30" fill="#F23645"/>
<rect x="524.61" y="71.70" width="1.1" height="15.90" fill="#089981"/>
<rect x="523.61" y="75.30" width="3.1" height="11.70" fill="#089981"/>
<rect x="528.75" y="67.00" width="1.1" height="9.40" fill="#F23645"/>
<rect x="527.75" y="74.10" width="3.1" height="1.80" fill="#F23645"/>
<rect x="532.89" y="71.20" width="1.1" height="4.90" fill="#089981"/>
<rect x="531.89" y="74.70" width="3.1" height="1.20" fill="#089981"/>
<rect x="537.03" y="70.90" width="1.1" height="5.50" fill="#F23645"/>
<rect x="536.03" y="73.50" width="3.1" height="2.40" fill="#F23645"/>
<rect x="541.17" y="74.70" width="1.1" height="17.60" fill="#F23645"/>
<rect x="540.17" y="75.30" width="3.1" height="5.80" fill="#F23645"/>
<rect x="545.32" y="70.20" width="1.1" height="15.10" fill="#089981"/>
<rect x="544.32" y="76.10" width="3.1" height="4.70" fill="#089981"/>
<rect x="549.46" y="71.40" width="1.1" height="10.30" fill="#089981"/>
<rect x="548.46" y="75.30" width="3.1" height="6.40" fill="#089981"/>
<rect x="553.60" y="69.40" width="1.1" height="17.00" fill="#F23645"/>
<rect x="552.60" y="75.30" width="3.1" height="6.40" fill="#F23645"/>
<rect x="557.74" y="76.40" width="1.1" height="8.30" fill="#089981"/>
<rect x="556.74" y="77.00" width="3.1" height="6.50" fill="#089981"/>
<rect x="561.88" y="68.20" width="1.1" height="9.40" fill="#F23645"/>
<rect x="560.88" y="76.00" width="3.1" height="1.00" fill="#F23645"/>
<rect x="566.03" y="75.30" width="1.1" height="7.00" fill="#089981"/>
<rect x="565.03" y="76.00" width="3.1" height="1.00" fill="#089981"/>
<rect x="570.17" y="76.50" width="1.1" height="7.00" fill="#F23645"/>
<rect x="569.17" y="76.50" width="3.1" height="4.40" fill="#F23645"/>
<rect x="574.31" y="77.30" width="1.1" height="9.40" fill="#F23645"/>
<rect x="573.31" y="78.50" width="3.1" height="7.70" fill="#F23645"/>
<rect x="578.45" y="85.20" width="1.1" height="16.50" fill="#F23645"/>
<rect x="577.45" y="85.20" width="3.1" height="16.50" fill="#F23645"/>
<rect x="582.59" y="99.70" width="1.1" height="15.80" fill="#F23645"/>
<rect x="581.59" y="102.00" width="3.1" height="10.00" fill="#F23645"/>
<rect x="586.74" y="103.50" width="1.1" height="14.40" fill="#089981"/>
<rect x="585.74" y="107.30" width="3.1" height="4.70" fill="#089981"/>
<rect x="590.88" y="100.30" width="1.1" height="5.20" fill="#F23645"/>
<rect x="589.88" y="104.40" width="3.1" height="1.10" fill="#F23645"/>
<rect x="595.02" y="106.10" width="1.1" height="7.70" fill="#F23645"/>
<rect x="594.02" y="106.10" width="3.1" height="2.10" fill="#F23645"/>
<rect x="599.16" y="97.30" width="1.1" height="9.40" fill="#089981"/>
<rect x="598.16" y="100.00" width="3.1" height="6.10" fill="#089981"/>
<rect x="603.30" y="93.20" width="1.1" height="14.10" fill="#F23645"/>
<rect x="602.30" y="99.70" width="3.1" height="5.30" fill="#F23645"/>
<rect x="607.45" y="93.40" width="1.1" height="16.80" fill="#089981"/>
<rect x="606.45" y="95.30" width="3.1" height="14.40" fill="#089981"/>
<rect x="611.59" y="95.30" width="1.1" height="7.30" fill="#F23645"/>
<rect x="610.59" y="95.30" width="3.1" height="4.70" fill="#F23645"/>
<rect x="615.73" y="82.40" width="1.1" height="17.30" fill="#089981"/>
<rect x="614.73" y="85.90" width="3.1" height="13.80" fill="#089981"/>
<rect x="619.87" y="84.40" width="1.1" height="14.70" fill="#F23645"/>
<rect x="618.87" y="85.00" width="3.1" height="2.90" fill="#F23645"/>
<rect x="624.01" y="79.10" width="1.1" height="10.00" fill="#F23645"/>
<rect x="623.01" y="87.30" width="3.1" height="1.80" fill="#F23645"/>
<rect x="628.16" y="85.90" width="1.1" height="3.80" fill="#089981"/>
<rect x="627.16" y="87.30" width="3.1" height="2.40" fill="#089981"/>
<rect x="632.30" y="83.80" width="1.1" height="2.90" fill="#089981"/>
<rect x="631.30" y="83.80" width="3.1" height="2.90" fill="#089981"/>
<rect x="636.44" y="77.90" width="1.1" height="14.70" fill="#F23645"/>
<rect x="635.44" y="85.00" width="3.1" height="5.30" fill="#F23645"/>
<rect x="640.58" y="82.90" width="1.1" height="8.50" fill="#089981"/>
<rect x="639.58" y="88.50" width="3.1" height="2.60" fill="#089981"/>
<rect x="644.72" y="83.80" width="1.1" height="12.00" fill="#F23645"/>
<rect x="643.72" y="84.40" width="3.1" height="11.40" fill="#F23645"/>
<rect x="648.87" y="90.30" width="1.1" height="12.10" fill="#089981"/>
<rect x="647.87" y="93.30" width="3.1" height="2.50" fill="#089981"/>
<rect x="653.01" y="89.10" width="1.1" height="37.30" fill="#F23645"/>
<rect x="652.01" y="97.00" width="3.1" height="7.80" fill="#F23645"/>
<rect x="657.15" y="98.30" width="1.1" height="40.50" fill="#F23645"/>
<rect x="656.15" y="105.20" width="3.1" height="33.60" fill="#F23645"/>
<rect x="661.29" y="133.30" width="1.1" height="19.30" fill="#F23645"/>
<rect x="660.29" y="137.00" width="3.1" height="1.00" fill="#F23645"/>
<rect x="665.43" y="123.30" width="1.1" height="24.60" fill="#089981"/>
<rect x="664.43" y="123.30" width="3.1" height="17.40" fill="#089981"/>
<rect x="669.58" y="124.80" width="1.1" height="4.40" fill="#089981"/>
<rect x="668.58" y="125.30" width="3.1" height="1.50" fill="#089981"/>
<rect x="673.72" y="116.40" width="1.1" height="9.00" fill="#089981"/>
<rect x="672.72" y="117.00" width="3.1" height="8.40" fill="#089981"/>
<rect x="677.86" y="111.20" width="1.1" height="12.30" fill="#F23645"/>
<rect x="676.86" y="114.10" width="3.1" height="8.80" fill="#F23645"/>
<rect x="682.00" y="110.20" width="1.1" height="12.10" fill="#089981"/>
<rect x="681.00" y="116.10" width="3.1" height="5.70" fill="#089981"/>
<rect x="686.14" y="110.20" width="1.1" height="15.20" fill="#089981"/>
<rect x="685.14" y="110.90" width="3.1" height="3.20" fill="#089981"/>
<rect x="690.29" y="113.30" width="1.1" height="32.80" fill="#F23645"/>
<rect x="689.29" y="114.10" width="3.1" height="32.00" fill="#F23645"/>
<rect x="694.43" y="142.00" width="1.1" height="19.50" fill="#F23645"/>
<rect x="693.43" y="145.30" width="3.1" height="4.20" fill="#F23645"/>
<rect x="698.57" y="122.50" width="1.1" height="28.30" fill="#089981"/>
<rect x="697.57" y="125.50" width="3.1" height="23.50" fill="#089981"/>
<rect x="702.71" y="118.20" width="1.1" height="7.60" fill="#089981"/>
<rect x="701.71" y="119.20" width="3.1" height="6.30" fill="#089981"/>
<rect x="706.85" y="116.00" width="1.1" height="15.30" fill="#F23645"/>
<rect x="705.85" y="119.80" width="3.1" height="9.90" fill="#F23645"/>
<rect x="711.00" y="126.90" width="1.1" height="19.80" fill="#F23645"/>
<rect x="710.00" y="129.30" width="3.1" height="12.40" fill="#F23645"/>
<rect x="715.14" y="132.30" width="1.1" height="27.40" fill="#F23645"/>
<rect x="714.14" y="142.10" width="3.1" height="16.70" fill="#F23645"/>
<rect x="719.28" y="146.10" width="1.1" height="17.00" fill="#089981"/>
<rect x="718.28" y="151.20" width="3.1" height="9.80" fill="#089981"/>
<rect x="723.42" y="148.80" width="1.1" height="15.60" fill="#F23645"/>
<rect x="722.42" y="150.00" width="3.1" height="1.00" fill="#F23645"/>
<rect x="727.56" y="147.20" width="1.1" height="31.80" fill="#F23645"/>
<rect x="726.56" y="147.20" width="3.1" height="18.80" fill="#F23645"/>
<rect x="731.71" y="154.80" width="1.1" height="17.20" fill="#089981"/>
<rect x="730.71" y="160.20" width="3.1" height="5.30" fill="#089981"/>
<rect x="735.85" y="138.50" width="1.1" height="24.00" fill="#089981"/>
<rect x="734.85" y="141.40" width="3.1" height="21.10" fill="#089981"/>
<rect x="739.99" y="139.60" width="1.1" height="10.20" fill="#F23645"/>
<rect x="738.99" y="142.30" width="3.1" height="1.20" fill="#F23645"/>
<rect x="744.13" y="141.40" width="1.1" height="9.60" fill="#F23645"/>
<rect x="743.13" y="144.40" width="3.1" height="3.20" fill="#F23645"/>
<rect x="748.27" y="144.90" width="1.1" height="33.60" fill="#089981"/>
<rect x="747.27" y="153.20" width="3.1" height="10.20" fill="#089981"/>
<rect x="752.42" y="133.20" width="1.1" height="28.90" fill="#089981"/>
<rect x="751.42" y="134.40" width="3.1" height="18.80" fill="#089981"/>
<rect x="756.56" y="126.00" width="1.1" height="11.20" fill="#089981"/>
<rect x="755.56" y="128.00" width="3.1" height="9.10" fill="#089981"/>
</g>
<polyline clip-path="url(#rp)" points="7.41,339.60 11.55,338.00 15.69,336.80 19.83,335.50 23.97,336.30 28.12,337.60 32.26,337.80 36.40,338.70 40.54,340.10 44.68,341.90 48.83,344.00 52.97,346.20 57.11,349.30 61.25,351.82 65.39,355.40 69.54,358.05 73.68,362.13 77.82,365.94 81.96,368.40 86.10,370.27 90.25,371.89 94.39,373.85 98.53,374.77 102.67,375.78 106.81,376.63 110.96,376.90 115.10,377.49 119.24,377.99 123.38,377.09 127.52,375.24 131.67,373.77 135.81,372.40 139.95,371.72 144.09,371.97 148.23,371.85 152.38,371.63 156.52,372.60 160.66,371.97 164.80,371.09 168.94,371.02 173.09,370.46 177.23,370.15 181.37,371.01 185.51,373.20 189.65,374.16 193.80,376.37 197.94,378.34 202.08,379.70 206.22,382.83 210.36,384.88 214.51,385.51 218.65,388.63 222.79,391.67 226.93,395.90 231.07,398.07 235.22,400.73 239.36,402.15 243.50,403.66 247.64,405.96 251.78,407.13 255.93,408.93 260.07,409.54 264.21,408.73 268.35,407.42 272.49,407.14 276.64,403.93 280.78,400.32 284.92,394.36 289.06,390.34 293.20,385.73 297.35,381.27 301.49,377.02 305.63,372.09 309.77,369.22 313.91,366.13 318.06,362.04 322.20,359.01 326.34,358.09 330.48,355.52 334.62,354.06 338.77,354.37 342.91,355.35 347.05,355.38 351.19,355.80 355.33,356.53 359.48,358.00 363.62,360.32 367.76,359.92 371.90,358.80 376.04,359.75 380.19,360.45 384.33,359.30 388.47,358.83 392.61,358.64 396.75,358.90 400.90,358.83 405.04,358.09 409.18,356.74 413.32,354.63 417.46,351.56 421.61,346.39 425.75,344.08 429.89,342.61 434.03,341.44 438.17,341.04 442.32,340.67 446.46,340.23 450.60,340.64 454.74,339.07 458.88,338.06 463.03,337.30 467.17,337.96 471.31,339.64 475.45,342.24 479.59,346.74 483.74,350.10 487.88,354.08 492.02,357.78 496.16,360.38 500.30,363.00 504.45,367.67 508.59,371.12 512.73,373.29 516.87,375.79 521.01,379.06 525.16,379.97 529.30,381.17 533.44,381.45 537.58,381.42 541.72,381.72 545.87,380.38 550.01,379.37 554.15,379.70 558.29,379.42 562.43,377.62 566.58,375.93 570.72,376.27 574.86,377.08 579.00,379.00 583.14,382.90 587.29,385.98 591.43,388.90 595.57,391.93 599.71,393.03 603.85,395.26 608.00,396.20 612.14,396.85 616.28,396.40 620.42,396.21 624.56,396.29 628.71,395.42 632.85,393.42 636.99,390.66 641.13,386.83 645.27,384.72 649.42,382.53 653.56,381.46 657.70,384.20 661.84,386.29 665.98,387.89 670.13,389.11 674.27,391.08 678.41,393.29 682.55,394.56 686.69,395.48 690.84,399.36 694.98,402.53 699.12,403.66 703.26,403.31 707.40,404.06 711.55,404.18 715.69,402.72 719.83,400.72 723.97,400.59 728.11,401.12 732.26,402.09 736.40,400.98 740.54,400.80 744.68,401.46 748.82,399.98 752.97,396.75 757.11,395.33" fill="none" stroke="#f7e35a" stroke-width="1.1" stroke-linejoin="round"/>
<polyline clip-path="url(#rp)" points="7.41,344.77 11.55,349.50 15.69,337.30 19.83,326.64 23.97,337.94 28.12,336.78 32.26,326.57 36.40,340.65 40.54,350.96 44.68,360.74 48.83,369.14 52.97,368.37 57.11,388.38 61.25,387.72 65.39,394.93 69.54,386.60 73.68,394.36 77.82,380.05 81.96,372.28 86.10,363.10 90.25,349.18 94.39,368.07 98.53,363.91 102.67,374.84 106.81,381.07 110.96,372.14 115.10,396.64 119.24,394.66 123.38,382.41 127.52,360.64 131.67,373.83 135.81,360.85 139.95,362.76 144.09,366.60 148.23,347.43 152.38,365.03 156.52,377.45 160.66,366.03 164.80,368.73 168.94,371.17 173.09,388.84 177.23,390.31 181.37,394.44 185.51,391.28 189.65,387.25 193.80,391.91 197.94,390.30 202.08,385.56 206.22,391.28 210.36,393.78 214.51,386.22 218.65,409.76 222.79,411.32 226.93,430.35 231.07,419.24 235.22,427.54 239.36,414.29 243.50,412.47 247.64,419.43 251.78,408.26 255.93,415.51 260.07,394.15 264.21,379.95 268.35,375.37 272.49,382.28 276.64,364.81 280.78,360.88 284.92,346.84 289.06,362.95 293.20,362.95 297.35,351.91 301.49,352.94 305.63,350.40 309.77,368.08 313.91,372.33 318.06,336.92 322.20,337.42 326.34,362.58 330.48,346.21 334.62,344.44 338.77,365.25 342.91,360.53 347.05,363.38 351.19,368.86 355.33,362.12 359.48,373.55 363.62,382.76 367.76,362.57 371.90,356.59 376.04,350.22 380.19,347.31 384.33,346.38 388.47,339.73 392.61,341.72 396.75,368.86 400.90,359.56 405.04,353.00 409.18,349.97 413.32,332.56 417.46,330.62 421.61,310.42 425.75,330.17 429.89,336.03 434.03,333.77 438.17,341.72 442.32,341.18 446.46,333.57 450.60,347.52 454.74,346.92 458.88,345.45 463.03,342.34 467.17,359.19 471.31,356.05 475.45,367.00 479.59,373.48 483.74,377.18 487.88,391.74 492.02,385.57 496.16,378.08 500.30,377.94 504.45,398.98 508.59,395.75 512.73,377.28 516.87,380.48 521.01,388.13 525.16,371.93 529.30,372.80 533.44,371.01 537.58,372.98 541.72,381.46 545.87,372.87 550.01,371.49 554.15,382.75 558.29,374.05 562.43,373.68 566.58,372.10 570.72,382.01 574.86,391.89 579.00,414.97 583.14,426.60 587.29,415.92 591.43,411.85 595.57,415.35 599.71,396.89 603.85,404.14 608.00,384.60 612.14,391.87 616.28,367.70 620.42,371.05 624.56,373.13 628.71,369.96 632.85,363.78 636.99,376.37 641.13,372.93 645.27,386.43 649.42,381.26 653.56,400.29 657.70,435.32 661.84,433.35 665.98,407.00 670.13,409.03 674.27,395.25 678.41,401.93 682.55,390.92 686.69,382.92 690.84,418.09 694.98,420.65 699.12,388.74 703.26,381.66 707.40,391.68 711.55,402.04 715.69,414.82 719.83,405.36 723.97,405.11 728.11,416.55 732.26,408.81 736.40,386.40 740.54,388.33 744.68,392.19 748.82,397.44 752.97,375.41 757.11,368.80" fill="none" stroke="#7e57c2" stroke-width="1.05" stroke-linejoin="round"/>
<text x="13.7" y="4.8" font-size="9.9" fill="#131722" font-weight="normal" text-anchor="start" textLength="148.3" lengthAdjust="spacingAndGlyphs">Ethereum / U.S. Dollar, 1h, BITSTAMP</text>
<text x="168.2" y="4.8" font-size="9.9" fill="#131722" font-weight="normal" text-anchor="start" textLength="5.3" lengthAdjust="spacingAndGlyphs">O</text>
<text x="173.8" y="4.8" font-size="9.9" fill="#089981" font-weight="normal" text-anchor="start" textLength="28.7" lengthAdjust="spacingAndGlyphs">2,616.2</text>
<text x="209" y="4.8" font-size="9.9" fill="#131722" font-weight="normal" text-anchor="start" textLength="5.0" lengthAdjust="spacingAndGlyphs">H</text>
<text x="214.3" y="4.8" font-size="9.9" fill="#089981" font-weight="normal" text-anchor="start" textLength="29.6" lengthAdjust="spacingAndGlyphs">2,626.9</text>
<text x="250" y="4.8" font-size="9.9" fill="#131722" font-weight="normal" text-anchor="start" textLength="3.8" lengthAdjust="spacingAndGlyphs">L</text>
<text x="254" y="4.8" font-size="9.9" fill="#089981" font-weight="normal" text-anchor="start" textLength="28.6" lengthAdjust="spacingAndGlyphs">2,616.1</text>
<text x="288.8" y="4.8" font-size="9.9" fill="#131722" font-weight="normal" text-anchor="start" textLength="5.0" lengthAdjust="spacingAndGlyphs">C</text>
<text x="294.1" y="4.8" font-size="9.9" fill="#089981" font-weight="normal" text-anchor="start" textLength="29.0" lengthAdjust="spacingAndGlyphs">2,625.3</text>
<text x="330.2" y="4.8" font-size="9.9" fill="#089981" font-weight="normal" text-anchor="start" textLength="51.9" lengthAdjust="spacingAndGlyphs">+6.1 (+0.23%)</text>
<text x="13.9" y="18.0" font-size="9.9" fill="#131722" font-weight="normal" text-anchor="start" textLength="82.4" lengthAdjust="spacingAndGlyphs">EMA 25, 50, 100, 200</text>
<text x="101.8" y="18.0" font-size="9.9" fill="#0b8a0b" font-weight="normal" text-anchor="start" textLength="29.4" lengthAdjust="spacingAndGlyphs">2,619.3</text>
<text x="137.0" y="18.0" font-size="9.9" fill="#2222ff" font-weight="normal" text-anchor="start" textLength="29.4" lengthAdjust="spacingAndGlyphs">2,632.0</text>
<text x="172.2" y="18.0" font-size="9.9" fill="#8a1a8a" font-weight="normal" text-anchor="start" textLength="29.1" lengthAdjust="spacingAndGlyphs">2,638.7</text>
<text x="207.4" y="18.0" font-size="9.9" fill="#131722" font-weight="normal" text-anchor="start" textLength="29.1" lengthAdjust="spacingAndGlyphs">2,618.4</text>
<text x="807" y="1.01" font-size="9" fill="#131722" font-weight="normal" text-anchor="start" textLength="29.7" lengthAdjust="spacingAndGlyphs">2,750.0</text>
<text x="807" y="27.00" font-size="9" fill="#131722" font-weight="normal" text-anchor="start" textLength="29.7" lengthAdjust="spacingAndGlyphs">2,725.0</text>
<text x="807" y="52.99" font-size="9" fill="#131722" font-weight="normal" text-anchor="start" textLength="29.7" lengthAdjust="spacingAndGlyphs">2,700.0</text>
<text x="807" y="78.97" font-size="9" fill="#131722" font-weight="normal" text-anchor="start" textLength="29.7" lengthAdjust="spacingAndGlyphs">2,675.0</text>
<text x="807" y="182.93" font-size="9" fill="#131722" font-weight="normal" text-anchor="start" textLength="29.7" lengthAdjust="spacingAndGlyphs">2,575.0</text>
<text x="807" y="208.91" font-size="9" fill="#131722" font-weight="normal" text-anchor="start" textLength="29.7" lengthAdjust="spacingAndGlyphs">2,550.0</text>
<text x="807" y="234.90" font-size="9" fill="#131722" font-weight="normal" text-anchor="start" textLength="29.7" lengthAdjust="spacingAndGlyphs">2,525.0</text>
<text x="807" y="260.89" font-size="9" fill="#131722" font-weight="normal" text-anchor="start" textLength="29.7" lengthAdjust="spacingAndGlyphs">2,500.0</text>
<text x="807" y="286.88" font-size="9" fill="#131722" font-weight="normal" text-anchor="start" textLength="29.7" lengthAdjust="spacingAndGlyphs">2,475.0</text>
<rect x="801" y="96.6" width="39.8" height="12.2" rx="1" fill="#800080"/>
<text x="807" y="105.60" font-size="9" fill="#ffffff" font-weight="normal" text-anchor="start" textLength="29.7" lengthAdjust="spacingAndGlyphs">2,638.7</text>
<rect x="801" y="109.1" width="39.8" height="12.3" rx="1" fill="#0000ff"/>
<text x="807" y="118.15" font-size="9" fill="#ffffff" font-weight="normal" text-anchor="start" textLength="29.7" lengthAdjust="spacingAndGlyphs">2,632.0</text>
<rect x="801" y="121.9" width="39.8" height="12.1" rx="1" fill="#089981"/>
<text x="807" y="130.85" font-size="9" fill="#ffffff" font-weight="normal" text-anchor="start" textLength="29.7" lengthAdjust="spacingAndGlyphs">2,625.3</text>
<rect x="801" y="134.8" width="39.8" height="11.9" rx="1" fill="#008000"/>
<text x="807" y="143.65" font-size="9" fill="#ffffff" font-weight="normal" text-anchor="start" textLength="29.7" lengthAdjust="spacingAndGlyphs">2,619.3</text>
<rect x="801" y="147.1" width="39.8" height="11.9" rx="1" fill="#000000"/>
<text x="807" y="155.95" font-size="9" fill="#ffffff" font-weight="normal" text-anchor="start" textLength="29.7" lengthAdjust="spacingAndGlyphs">2,618.4</text>
<path d="M764.7,121.9 H800.1 V134 H764.7 Q762.7,134 762.7,132 V123.9 Q762.7,121.9 764.7,121.9 Z" fill="#089981"/>
<text x="766.5" y="131.1" font-size="9" fill="#ffffff" font-weight="normal" text-anchor="start" textLength="30.5" lengthAdjust="spacingAndGlyphs">ETHUSD</text>
<text x="807.3" y="323.60" font-size="9" fill="#131722" font-weight="normal" text-anchor="start" textLength="21.4" lengthAdjust="spacingAndGlyphs">70.00</text>
<text x="807.3" y="350.60" font-size="9" fill="#131722" font-weight="normal" text-anchor="start" textLength="21.4" lengthAdjust="spacingAndGlyphs">60.00</text>
<text x="807.3" y="377.60" font-size="9" fill="#131722" font-weight="normal" text-anchor="start" textLength="21.4" lengthAdjust="spacingAndGlyphs">50.00</text>
<text x="807.3" y="404.60" font-size="9" fill="#131722" font-weight="normal" text-anchor="start" textLength="21.4" lengthAdjust="spacingAndGlyphs">40.00</text>
<text x="807.3" y="431.60" font-size="9" fill="#131722" font-weight="normal" text-anchor="start" textLength="21.4" lengthAdjust="spacingAndGlyphs">30.00</text>
<rect x="801" y="362.9" width="32" height="12.2" rx="1" fill="#7e57c2"/>
<text x="807.3" y="372.1" font-size="9" fill="#ffffff" font-weight="normal" text-anchor="start" textLength="21.4" lengthAdjust="spacingAndGlyphs">52.01</text>
<rect x="801" y="389" width="32" height="12.4" rx="1" fill="#ffeb3b"/>
<text x="807.3" y="398.3" font-size="9" fill="#131722" font-weight="normal" text-anchor="start" textLength="21.4" lengthAdjust="spacingAndGlyphs">42.25</text>
<text x="13.7" y="310.1" font-size="9.2" fill="#131722" font-weight="normal" text-anchor="start" textLength="55.2" lengthAdjust="spacingAndGlyphs">RSI (14, close)</text>
<text x="75.5" y="310.1" font-size="9.2" fill="#7e57c2" font-weight="normal" text-anchor="start" textLength="20.4" lengthAdjust="spacingAndGlyphs">52.01</text>
<text x="102.2" y="310.1" font-size="9.2" fill="#fbe12c" font-weight="normal" text-anchor="start" textLength="21.5" lengthAdjust="spacingAndGlyphs">42.25</text>
<ellipse cx="132.3" cy="307.1" rx="1.9" ry="2.5" fill="none" stroke="#5d606b" stroke-width="0.95"/>
<line x1="130.5" y1="310.3" x2="134.10000000000002" y2="303.8" stroke="#5d606b" stroke-width="0.9"/>
<ellipse cx="143.3" cy="307.1" rx="1.9" ry="2.5" fill="none" stroke="#5d606b" stroke-width="0.95"/>
<line x1="141.5" y1="310.3" x2="145.10000000000002" y2="303.8" stroke="#5d606b" stroke-width="0.9"/>
<ellipse cx="154.4" cy="307.1" rx="1.9" ry="2.5" fill="none" stroke="#5d606b" stroke-width="0.95"/>
<line x1="152.6" y1="310.3" x2="156.20000000000002" y2="303.8" stroke="#5d606b" stroke-width="0.9"/>
<ellipse cx="165.7" cy="307.1" rx="1.9" ry="2.5" fill="none" stroke="#5d606b" stroke-width="0.95"/>
<line x1="163.89999999999998" y1="310.3" x2="167.5" y2="303.8" stroke="#5d606b" stroke-width="0.9"/>
<text x="36.6" y="461.6" font-size="9.6" fill="#131722" font-weight="normal" text-anchor="middle" textLength="9.4" lengthAdjust="spacingAndGlyphs">24</text>
<text x="135.8" y="461.6" font-size="9.6" fill="#131722" font-weight="normal" text-anchor="middle" textLength="9.4" lengthAdjust="spacingAndGlyphs">25</text>
<text x="235.2" y="461.6" font-size="9.6" fill="#131722" font-weight="normal" text-anchor="middle" textLength="9.4" lengthAdjust="spacingAndGlyphs">26</text>
<text x="334.9" y="461.6" font-size="9.6" fill="#131722" font-weight="normal" text-anchor="middle" textLength="9.4" lengthAdjust="spacingAndGlyphs">27</text>
<text x="434.2" y="461.6" font-size="9.6" fill="#131722" font-weight="normal" text-anchor="middle" textLength="9.4" lengthAdjust="spacingAndGlyphs">28</text>
<text x="533.5" y="461.6" font-size="9.6" fill="#131722" font-weight="normal" text-anchor="middle" textLength="9.4" lengthAdjust="spacingAndGlyphs">29</text>
<text x="632.5" y="461.6" font-size="9.6" fill="#131722" font-weight="normal" text-anchor="middle" textLength="9.4" lengthAdjust="spacingAndGlyphs">30</text>
<text x="731.8" y="461.6" font-size="9.6" fill="#131722" font-weight="bold" text-anchor="middle" textLength="13.8" lengthAdjust="spacingAndGlyphs">Oct</text>
<svg x="0" y="0" width="800" height="485" overflow="hidden">
<text x="783.7" y="461.6" font-size="9.6" fill="#131722" font-weight="normal" text-anchor="start" textLength="21.4" lengthAdjust="spacingAndGlyphs">15:30</text>
</svg>
<g>
<path d="M 763.75,283.18 A 7.2,7.2 0 1 1 758.88,278.48" fill="none" stroke="#9c27b0" stroke-width="1.3"/>
<path d="M 758.9,281.9 L 755.0,285.7 L 759.2,285.3 L 755.0,289.2" fill="none" stroke="#9c27b0" stroke-width="1.3" stroke-linejoin="miter"/>
<circle cx="761.9" cy="280.5" r="1.95" fill="#f23645"/>
</g>
<g transform="translate(7.1,475.7) scale(0.405)" fill="#131722"><path d="M14 22H7V11H0V4h14v18z"/><path d="M28 22h-8l7.5-18h8L28 22z"/><circle cx="20" cy="8" r="4"/></g>
<text x="24.7" y="484.6" font-size="10.6" fill="#131722" font-weight="normal" text-anchor="start" textLength="51.2" lengthAdjust="spacingAndGlyphs">TradingView</text>
</svg></body></html>
